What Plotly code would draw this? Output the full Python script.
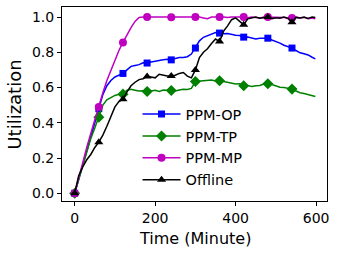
import plotly.graph_objects as go

# time axis (minutes), one reading every 10 minutes
time_min = [0, 10, 20, 30, 40, 50, 60, 70, 80, 90, 100, 110, 120, 130, 140, 150, 160, 170, 180,
            190, 200, 210, 220, 230, 240, 250, 260, 270, 280, 290, 300, 310, 320, 330, 340, 350,
            360, 370, 380, 390, 400, 410, 420, 430, 440, 450, 460, 470, 480, 490, 500, 510, 520,
            530, 540, 550, 560, 570, 580, 590, 598]

ppm_op = [0.0, 0.08, 0.17, 0.25, 0.33, 0.40, 0.48, 0.56, 0.61, 0.64, 0.66, 0.67, 0.68, 0.70, 0.72,
          0.725, 0.73, 0.74, 0.739, 0.745, 0.75, 0.753, 0.757, 0.76, 0.757, 0.765, 0.77, 0.77, 0.775,
          0.79, 0.824, 0.865, 0.885, 0.895, 0.905, 0.912, 0.909, 0.905, 0.907, 0.90, 0.897, 0.895,
          0.886, 0.887, 0.88, 0.875, 0.88, 0.882, 0.88, 0.87, 0.862, 0.852, 0.84, 0.832, 0.824,
          0.81, 0.797, 0.792, 0.785, 0.772, 0.763]

ppm_tp = [0.0, 0.08, 0.16, 0.24, 0.31, 0.37, 0.432, 0.50, 0.53, 0.545, 0.555, 0.562, 0.5625, 0.585,
          0.59, 0.585, 0.58, 0.582, 0.577, 0.58, 0.585, 0.578, 0.586, 0.584, 0.583, 0.58, 0.586,
          0.59, 0.589, 0.595, 0.634, 0.636, 0.641, 0.639, 0.642, 0.637, 0.638, 0.634, 0.63, 0.626,
          0.62, 0.622, 0.61, 0.612, 0.606, 0.61, 0.612, 0.62, 0.621, 0.617, 0.61, 0.602, 0.60,
          0.596, 0.591, 0.58, 0.57, 0.566, 0.56, 0.555, 0.549]

ppm_mp = [0.0, 0.09, 0.18, 0.26, 0.34, 0.42, 0.489, 0.57, 0.64, 0.70, 0.76, 0.81, 0.856, 0.90, 0.94,
          0.975, 0.998, 1.0, 1.0, 0.998, 1.0, 0.997, 1.0, 1.0, 0.999, 1.0, 0.997, 1.0, 1.0, 0.998,
          1.0, 1.0, 0.995, 0.99, 1.0, 0.998, 1.0, 1.0, 0.997, 1.0, 0.998, 1.0, 1.0, 0.996, 1.0,
          0.998, 0.995, 1.0, 1.0, 0.997, 1.0, 0.996, 0.998, 0.99, 0.995, 1.0, 0.994, 0.998, 0.99,
          0.995, 0.99]

offline = [0.0, 0.10, 0.15, 0.19, 0.22, 0.26, 0.29, 0.33, 0.38, 0.44, 0.49, 0.52, 0.534, 0.575,
           0.61, 0.63, 0.645, 0.65, 0.663, 0.66, 0.655, 0.675, 0.67, 0.665, 0.666, 0.67, 0.68,
           0.685, 0.665, 0.655, 0.70, 0.77, 0.80, 0.82, 0.85, 0.875, 0.861, 0.92, 0.95, 0.985,
           0.995, 0.975, 0.956, 0.99, 0.995, 1.0, 0.993, 0.998, 1.0, 0.99, 0.996, 0.993, 1.0,
           0.994, 0.97, 0.998, 0.995, 1.0, 0.992, 1.0, 0.997]

x_ticks = [0, 200, 400, 600]
y_ticks = [0.0, 0.2, 0.4, 0.6, 0.8, 1.0]
x_title = "Time (Minute)"
y_title = "Utilization"

series = [
    ("PPM-OP", ppm_op, "#0000ff", "square", 7),
    ("PPM-TP", ppm_tp, "#008000", "diamond", 8.5),
    ("PPM-MP", ppm_mp, "#bf00bf", "circle", 8),
    ("Offline", offline, "#000000", "triangle-up", 8),
]

MARK_EVERY = 6  # markers every 60 minutes

fig = go.Figure()
for name, vals, color, sym, msize in series:
    fig.add_trace(go.Scatter(x=time_min, y=vals, mode="lines",
                             line=dict(color=color, width=1.5),
                             showlegend=False, hoverinfo="skip"))
    fig.add_trace(go.Scatter(x=time_min[:-1:MARK_EVERY], y=vals[:-1:MARK_EVERY], mode="markers",
                             marker=dict(color=color, symbol=sym, size=msize,
                                         line=dict(width=0)),
                             showlegend=False))
for name, vals, color, sym, msize in series:
    fig.add_trace(go.Scatter(x=[None], y=[None], mode="lines+markers", name=name,
                             line=dict(color=color, width=1.5),
                             marker=dict(color=color, symbol=sym, size=msize)))

fig.update_layout(
    width=338, height=256,
    margin=dict(l=62, r=11, t=7, b=55, autoexpand=False),
    paper_bgcolor="white", plot_bgcolor="white",
    font=dict(family="DejaVu Sans", size=14, color="black"),
    showlegend=True,
    legend=dict(x=0.285, y=0.53, xanchor="left", yanchor="top",
                bgcolor="rgba(255,255,255,0)", borderwidth=0,
                font=dict(size=14.5), itemwidth=38),
    annotations=[
        dict(text=x_title, xref="paper", yref="paper", x=0.502, y=-0.193,
             xanchor="center", yanchor="middle", showarrow=False, font=dict(size=16)),
        dict(text=y_title, xref="paper", yref="paper", x=-0.178, y=0.496, textangle=-90,
             xanchor="center", yanchor="middle", showarrow=False, font=dict(size=18)),
    ],
)
fig.update_xaxes(range=[-31.5, 627], tickvals=x_ticks, ticktext=[str(v) for v in x_ticks],
                 showgrid=False, zeroline=False, showline=True, linecolor="black",
                 linewidth=1, mirror=True, ticks="outside", ticklen=4, tickcolor="black",
                 tickfont=dict(size=14), automargin=False)
fig.update_yaxes(range=[-0.044, 1.057], tickvals=y_ticks, ticktext=[f"{v:.1f}" for v in y_ticks],
                 showgrid=False, zeroline=False, showline=True, linecolor="black",
                 linewidth=1, mirror=True, ticks="outside", ticklen=4, tickcolor="black",
                 tickfont=dict(size=14), automargin=False)

fig.write_html("out.html", config={"displayModeBar": False},
               post_script="document.body.style.margin='0px';")
